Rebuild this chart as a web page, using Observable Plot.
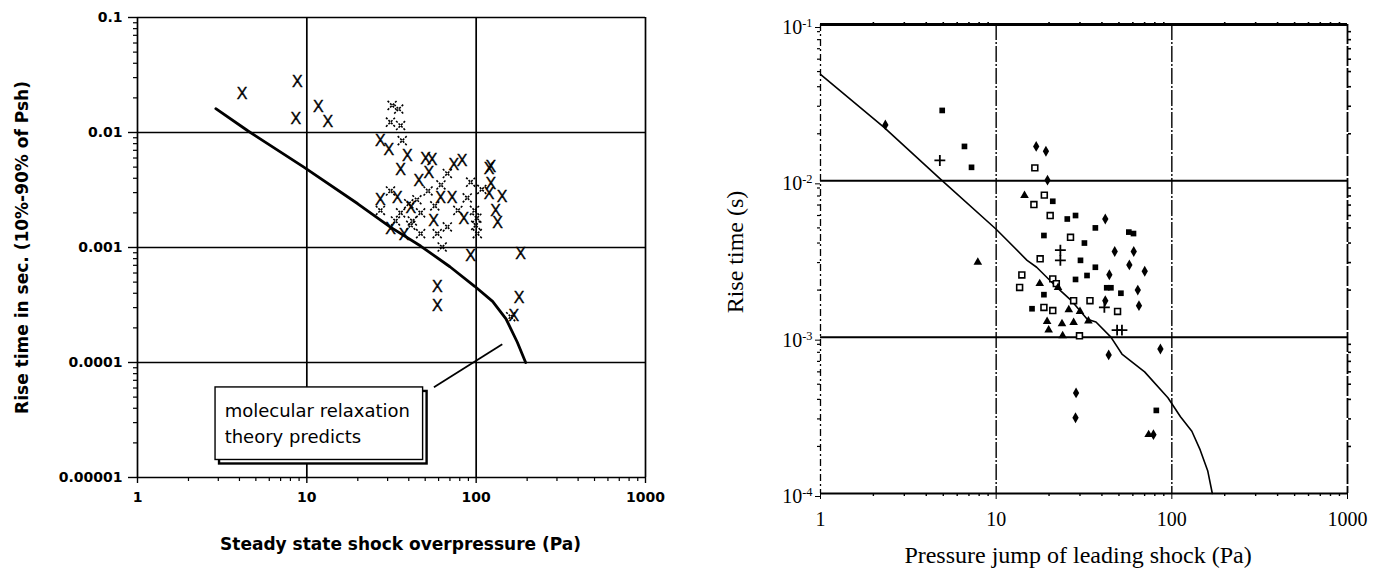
<!DOCTYPE html>
<html><head><meta charset="utf-8">
<script src="https://cdn.jsdelivr.net/npm/d3@7"></script>
<script src="https://cdn.jsdelivr.net/npm/@observablehq/plot@0.6"></script>
<style>
html,body{margin:0;padding:0;background:#fff;}
#wrap{position:relative;width:1373px;height:570px;overflow:hidden;background:#fff;}
#left{position:absolute;left:0;top:0;}
#right{position:absolute;left:690px;top:0;}
svg{display:block;}
</style></head><body><div id="wrap"><div id="left"></div><div id="right"></div></div>
<script>
// ---------- LEFT PANEL DATA ----------
const leftXTicks = [1, 10, 100, 1000];
const leftXLabels = ["1", "10", "100", "1000"];
const leftYTicks = [0.1, 0.01, 0.001, 0.0001, 0.00001];
const leftYLabels = ["0.1", "0.01", "0.001", "0.0001", "0.00001"];
const leftXTitle = "Steady state shock overpressure (Pa)";
const leftYTitle = "Rise time in sec. (10%-90% of Psh)";

// measured rise times (solid X)
const leftSolidP = [4.15, 8.8, 8.6, 11.7, 13.3, 27.2, 30.5, 39.2, 35.8, 50.3, 55, 82.6, 73.9, 52.6, 45.8,
  119, 122, 122, 119, 142, 130, 134, 27.2, 34.2, 41.1, 61.6, 72, 56, 84.5, 31.2, 37.5,
  92.8, 183, 59, 59, 179, 167];
const leftSolidT = [0.0217, 0.0274, 0.0132, 0.0168, 0.0123, 0.0085, 0.0071, 0.0063, 0.0047, 0.0059, 0.0058, 0.0057, 0.0052, 0.0045, 0.0038,
  0.0048, 0.0050, 0.0036, 0.0029, 0.00273, 0.0021, 0.00164, 0.0026, 0.0027, 0.0022, 0.0027, 0.0027, 0.0017, 0.00177, 0.00145, 0.00128,
  0.00085, 0.00088, 0.000458, 0.00031, 0.000363, 0.000256];
// faint (broken print) X markers
const leftFaintP = [31.9, 34.9, 31.2, 35.8, 36.6, 67.6, 92.8, 31.2, 44.7, 88.6, 35.8, 47, 67.6, 41.1, 33.4, 97.8, 99.5, 101.6,
  63, 27.2, 58.9, 47, 160, 40, 52, 62, 57, 78, 42, 101, 108];
const leftFaintT = [0.0172, 0.016, 0.0123, 0.0115, 0.0085, 0.0044, 0.0037, 0.0031, 0.0026, 0.0027, 0.0020, 0.0020, 0.00151, 0.00156, 0.0017, 0.0021, 0.00156, 0.00132,
  0.00101, 0.0021, 0.00132, 0.00132, 0.00025, 0.0024, 0.0031, 0.0035, 0.0023, 0.0021, 0.0017, 0.0018, 0.0032];
// molecular relaxation theory curve
const leftTheoryP = [2.9, 4.5, 9.6, 20, 31, 47, 70, 98, 125, 150, 175, 196];
const leftTheoryT = [0.0161, 0.0103, 0.0050, 0.0024, 0.00151, 0.00103, 0.00068, 0.00046, 0.00034, 0.00024, 0.00015, 0.0001];
// annotation
const annotLines = ["molecular relaxation", "theory predicts"];
const annotLineP = [3.27, 3.27];
const annotLineT = [3.33e-5, 2.01e-5];
const annotBox = {x1: 2.89, x2: 48.6, y1: 1.42e-5, y2: 6.07e-5};
const annotLeader = {x1: 142.6, y1: 1.44e-4, x2: 56.3, y2: 6.1e-5};

// ---------- RIGHT PANEL DATA ----------
const rightXTicks = [1, 10, 100, 1000];
const rightXLabels = ["1", "10", "100", "1000"];
const rightYTicks = [0.1, 0.01, 0.001, 0.0001];
const rightYLabels = ["10^-1", "10^-2", "10^-3", "10^-4"];
const rightXTitle = "Pressure jump of leading shock (Pa)";
const rightYTitle = "Rise time (s)";

const rFilledSquareP = [4.93, 6.6, 7.24, 21, 25.4, 28.3, 36.7, 56.9, 60.5, 18.7, 31.8, 30.2, 36.7, 28.3, 32.9, 42.6, 45, 51.3, 18.7, 16, 81.6];
const rFilledSquareT = [0.0282, 0.0166, 0.0122, 0.0074, 0.0057, 0.006, 0.005, 0.0047, 0.0046, 0.00447, 0.004, 0.0031, 0.0028, 0.00234, 0.00248, 0.00207, 0.00207, 0.00191, 0.00187, 0.00152, 0.00034];
const rOpenSquareP = [16.6, 16.4, 18.8, 20.3, 26.5, 17.8, 14, 13.6, 21, 22, 27.6, 34.2, 49.1, 18.7, 21, 29.8];
const rOpenSquareT = [0.0121, 0.00705, 0.0081, 0.006, 0.00435, 0.00317, 0.0025, 0.00208, 0.00236, 0.0022, 0.00171, 0.00171, 0.00146, 0.00155, 0.00148, 0.00102];
const rDiamondP = [2.34, 16.9, 19.2, 19.6, 41.8, 47.3, 60.7, 57.3, 70.1, 44.1, 64, 65, 41.8, 43.7, 86.1, 28.5, 28.3, 78.6];
const rDiamondT = [0.0228, 0.0166, 0.01545, 0.0101, 0.0057, 0.00353, 0.00353, 0.0029, 0.00264, 0.00251, 0.002, 0.00159, 0.00171, 0.00077, 0.00084, 0.00044, 0.000305, 0.000238];
const rTriangleP = [14.5, 7.86, 22.5, 17.7, 25.9, 30, 23.7, 27.6, 33.5, 19.9, 23.9, 19.5, 73.8];
const rTriangleT = [0.00805, 0.00301, 0.00208, 0.0022, 0.0015, 0.00146, 0.00122, 0.00124, 0.00127, 0.00111, 0.00102, 0.00126, 0.000238];
const rPlusP = [4.78, 23.2, 23.2, 41.3, 48.8, 52];
const rPlusT = [0.0135, 0.0036, 0.0031, 0.00155, 0.00111, 0.00111];
const rightTheoryP = [1, 2.3, 4.8, 10, 15, 17, 22, 27, 33, 37, 45, 52, 70, 95, 112, 130, 145, 160, 170];
const rightTheoryT = [0.048, 0.022, 0.0103, 0.0049, 0.0031, 0.0028, 0.0021, 0.0017, 0.0013, 0.00125, 0.001, 0.00078, 0.0006, 0.00041, 0.00031, 0.00025, 0.00019, 0.00014, 0.0001];

// ---------- helpers ----------
const zip = (P, T) => P.map((p, i) => ({p, t: T[i]}));
const minorTicks = (lo, hi) => { const out = []; for (let e = lo; e < hi; e++) for (let m = 2; m <= 9; m++) out.push(m * Math.pow(10, e)); return out; };
const blank = () => "";

// ---------- LEFT PLOT ----------
const leftPlot = Plot.plot({
  width: 690, height: 570,
  marginLeft: 137, marginRight: 45, marginTop: 17, marginBottom: 93,
  style: {fontFamily: "DejaVu Sans", fontSize: "14px", fontWeight: "bold", background: "white", color: "black", overflow: "visible"},
  x: {type: "log", domain: [1, 1000], label: null},
  y: {type: "log", domain: [1e-5, 0.1], label: null},
  marks: [
    Plot.ruleX(leftXTicks, {stroke: "black", strokeWidth: 1.7}),
    Plot.ruleY(leftYTicks, {stroke: "black", strokeWidth: 1.7}),
    Plot.axisY({ticks: minorTicks(-5, -1), tickSize: 4, tickFormat: blank, label: null, strokeWidth: 1.2}),
    Plot.axisX({ticks: minorTicks(0, 3), tickSize: 4, tickFormat: blank, label: null, strokeWidth: 1.2}),
    Plot.axisY({ticks: leftYTicks, tickSize: 9, tickPadding: 6, tickFormat: d => leftYLabels[leftYTicks.indexOf(d)], label: null, strokeWidth: 1.4}),
    Plot.axisX({ticks: leftXTicks, tickSize: 6, tickPadding: 9, tickFormat: d => leftXLabels[leftXTicks.indexOf(d)], label: null, strokeWidth: 1.4}),
    Plot.line(zip(leftTheoryP, leftTheoryT), {x: "p", y: "t", stroke: "black", strokeWidth: 2.8}),
    Plot.dot(zip(leftFaintP, leftFaintT), {x: "p", y: "t", symbol: "times", r: 4.2, stroke: "black", strokeWidth: 1.6, strokeDasharray: "2.2,1.3"}),
    Plot.text(zip(leftSolidP, leftSolidT), {x: "p", y: "t", text: () => "X", fontFamily: "Liberation Sans", fontSize: 16, fontWeight: "normal", stroke: "black", strokeWidth: 0.4, fill: "black"}),
    Plot.link([annotLeader], {x1: "x1", y1: "y1", x2: "x2", y2: "y2", stroke: "black", strokeWidth: 1.8}),
    Plot.rect([annotBox], {x1: "x1", x2: "x2", y1: "y1", y2: "y2", fill: "white", stroke: "black", strokeWidth: 2.4, dx: 4, dy: 4}),
    Plot.rect([annotBox], {x1: "x1", x2: "x2", y1: "y1", y2: "y2", fill: "white", stroke: "black", strokeWidth: 1.4}),
    Plot.text(annotLines.map((s, i) => ({s, p: annotLineP[i], t: annotLineT[i]})), {x: "p", y: "t", text: "s", textAnchor: "start", lineAnchor: "bottom", fontSize: 18, fontWeight: "normal", fill: "black"}),
    Plot.text([leftXTitle], {text: d => d, frameAnchor: "bottom", textAnchor: "middle", lineAnchor: "bottom", dx: 9, dy: 72, fontSize: 17, fontWeight: "bold"}),
    Plot.text([leftYTitle], {text: d => d, frameAnchor: "left", textAnchor: "middle", lineAnchor: "middle", rotate: -90, dx: -115, fontSize: 17, fontWeight: "bold"})
  ]
});
document.getElementById("left").append(leftPlot);

// ---------- RIGHT PLOT ----------
const rightPlot = Plot.plot({
  width: 683, height: 570,
  marginLeft: 130, marginRight: 26, marginTop: 24, marginBottom: 77,
  style: {fontFamily: "Liberation Serif", fontSize: "20px", background: "white", color: "black", overflow: "visible"},
  x: {type: "log", domain: [1, 1000], label: null},
  y: {type: "log", domain: [1e-4, 0.1], label: null},
  marks: [
    Plot.ruleY([0.1], {stroke: "black", strokeWidth: 2.8}),
    Plot.ruleY([0.01, 0.001, 0.0001], {stroke: "black", strokeWidth: 2}),
    Plot.ruleX([10, 100], {stroke: "black", strokeWidth: 1.4, strokeDasharray: "16,2,2,2"}),
    Plot.ruleX([1], {stroke: "black", strokeWidth: 1.3, strokeDasharray: "7,3,2,3"}),
    Plot.ruleX([1000], {stroke: "black", strokeWidth: 1.8, strokeDasharray: "20,2"}),
    Plot.axisX({anchor: "top", ticks: minorTicks(0, 3), tickSize: 3, tickFormat: blank, label: null, strokeWidth: 1.6}),
    Plot.axisX({anchor: "bottom", ticks: minorTicks(0, 3), tickSize: 3, tickFormat: blank, label: null, strokeWidth: 1.4}),
    Plot.axisY({anchor: "right", ticks: minorTicks(-4, -1), tickSize: 3, tickFormat: blank, label: null, strokeWidth: 1.6}),
    Plot.axisY({anchor: "left", ticks: minorTicks(-4, -1), tickSize: 3, tickFormat: blank, label: null, strokeWidth: 1.2}),
    Plot.axisY({ticks: rightYTicks, tickSize: 5, tickPadding: 3, tickFormat: d => rightYLabels[rightYTicks.indexOf(d)], label: null, dy: 3}),
    Plot.axisX({ticks: rightXTicks, tickSize: 6, tickPadding: 12, tickFormat: d => rightXLabels[rightXTicks.indexOf(d)], label: null}),
    Plot.line(zip(rightTheoryP, rightTheoryT), {x: "p", y: "t", stroke: "black", strokeWidth: 1.6}),
    Plot.dot(zip(rOpenSquareP, rOpenSquareT), {x: "p", y: "t", symbol: "square", r: 3.3, fill: "white", stroke: "black", strokeWidth: 1.6}),
    Plot.dot(zip(rFilledSquareP, rFilledSquareT), {x: "p", y: "t", symbol: "square", r: 3.2, fill: "black"}),
    Plot.dot(zip(rDiamondP, rDiamondT), {x: "p", y: "t", symbol: "diamond", r: 3.3, fill: "black"}),
    Plot.dot(zip(rTriangleP, rTriangleT), {x: "p", y: "t", symbol: "triangle", r: 3.2, fill: "black"}),
    Plot.dot(zip(rPlusP, rPlusT), {x: "p", y: "t", symbol: "plus", r: 3.6, stroke: "black", strokeWidth: 1.8}),
    Plot.text([rightXTitle], {text: d => d, frameAnchor: "bottom", textAnchor: "middle", lineAnchor: "bottom", dx: -6, dy: 69, fontSize: 24}),
    Plot.text([rightYTitle], {text: d => d, frameAnchor: "left", textAnchor: "middle", lineAnchor: "middle", rotate: -90, dx: -85, dy: -7, fontSize: 24})
  ]
});
document.getElementById("right").append(rightPlot);

// superscript exponents on the right y-axis tick labels
d3.select(rightPlot).selectAll("text").each(function() {
  const s = this.textContent;
  if (this.childElementCount === 0 && s.includes("^")) {
    const [b, e] = s.split("^");
    this.textContent = b;
    d3.select(this).append("tspan").attr("dy", "-0.55em").attr("font-size", "0.62em").text(e);
  }
});
</script></body></html>
